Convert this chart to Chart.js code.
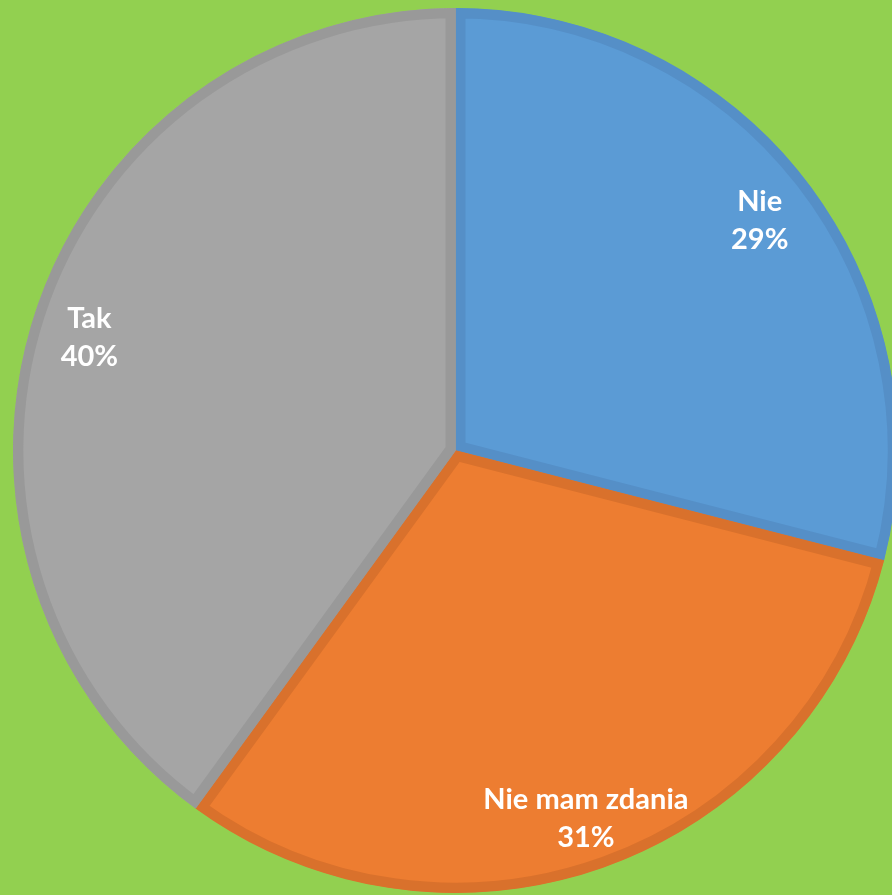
<!DOCTYPE html>
<html>
<head>
<meta charset="utf-8">
<script src="https://cdn.jsdelivr.net/npm/chart.js@4"></script>
<style>
  html, body { margin: 0; padding: 0; background: #92D050; overflow: hidden; width: 892px; height: 895px; }
  #wrap { position: absolute; left: 13px; top: 8px; width: 885px; height: 885px; }
</style>
</head>
<body>
<div id="wrap"><canvas id="pie" width="885" height="885"></canvas></div>
<script>
// Survey answers, in drawing order (clockwise from 12 o'clock)
const categories = ['Nie', 'Nie mam zdania', 'Tak'];
const shares = [29, 31, 40];
const fillColors = ['#5B9BD5', '#ED7D31', '#A5A5A5'];
const edgeColors = ['#558FC7', '#D9712C', '#999999'];

// Writes "category / percent" inside each slice, near the rim
const sliceLabels = {
  id: 'sliceLabels',
  afterDatasetsDraw(chart) {
    const ctx = chart.ctx;
    const meta = chart.getDatasetMeta(0);
    const total = shares.reduce((a, b) => a + b, 0);
    ctx.save();
    ctx.fillStyle = '#FFFFFF';
    ctx.font = 'bold 29px Lato, "Open Sans", sans-serif';
    ctx.textAlign = 'center';
    ctx.textBaseline = 'middle';
    meta.data.forEach((arc, i) => {
      const mid = (arc.startAngle + arc.endAngle) / 2;
      const r = arc.outerRadius * 0.87;
      const x = arc.x + Math.cos(mid) * r;
      const y = arc.y + Math.sin(mid) * r + 6;
      const pct = Math.round(shares[i] / total * 100) + '%';
      ctx.fillText(categories[i], x, y - 19);
      ctx.fillText(pct, x, y + 19);
    });
    ctx.restore();
  }
};

new Chart(document.getElementById('pie'), {
  type: 'pie',
  data: {
    labels: categories,
    datasets: [{
      data: shares,
      backgroundColor: fillColors,
      borderColor: edgeColors,
      borderWidth: 10,
      borderAlign: 'inner',
      hoverBorderWidth: 10
    }]
  },
  options: {
    responsive: false,
    animation: false,
    events: [],
    layout: { padding: 0 },
    plugins: {
      legend: { display: false },
      tooltip: { enabled: false }
    }
  },
  plugins: [sliceLabels]
});
</script>
</body>
</html>
